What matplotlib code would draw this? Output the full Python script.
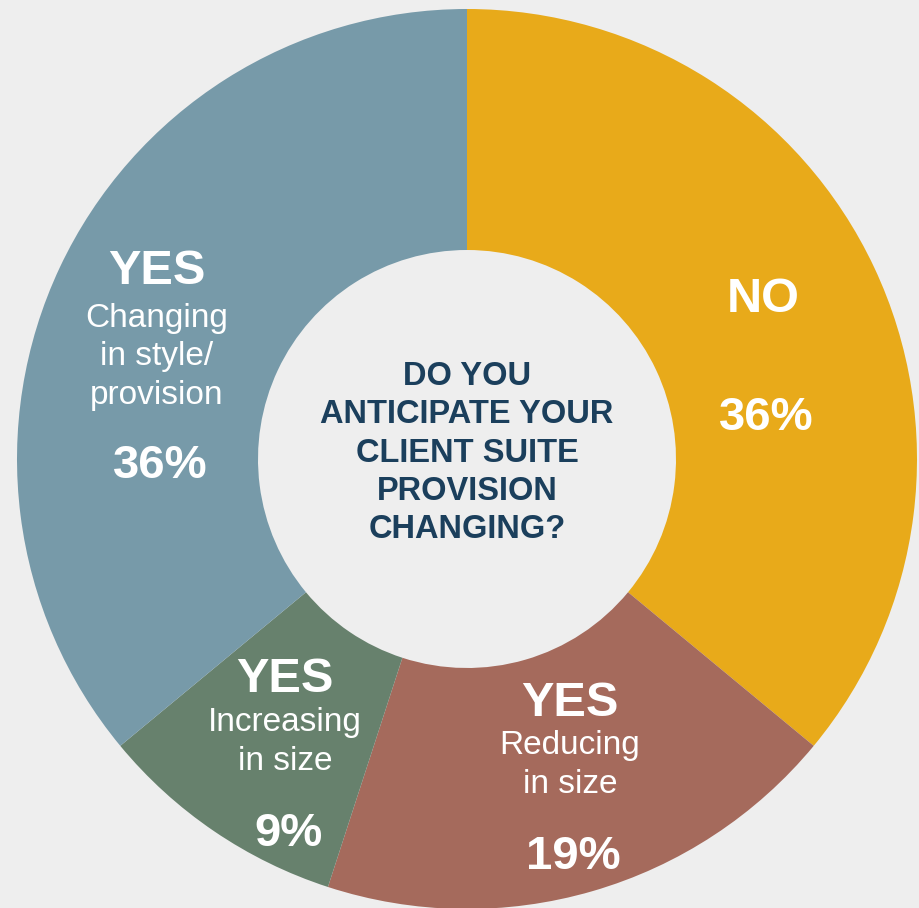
import matplotlib.pyplot as plt

plt.rcParams['font.family'] = ['Liberation Sans', 'DejaVu Sans']

# data
shares = [36, 19, 9, 36]
heads = ['NO', 'YES', 'YES', 'YES']
subs = ['', 'Reducing\nin size', 'Increasing\nin size', 'Changing\nin style/\nprovision']
colors = ['#e8aa1a', '#a56a5c', '#67816d', '#779aa9']
question = 'DO YOU\nANTICIPATE YOUR\nCLIENT SUITE\nPROVISION\nCHANGING?'

W, H = 919, 908
bg = '#eeeeee'

fig = plt.figure(figsize=(W / 100, H / 100), dpi=100, facecolor=bg)
ax = fig.add_axes([0, 0, 1, 1])
ax.set_facecolor(bg)

cx, cy, r = 467, H - 459, 450
ax.pie(shares, colors=colors, startangle=90, counterclock=False,
       center=(cx, cy), radius=r, frame=True,
       wedgeprops=dict(width=r - 209, linewidth=0))
ax.set_xlim(0, W)
ax.set_ylim(0, H)
ax.set_aspect('equal')
ax.axis('off')

ax.text(cx, H - 453, question, ha='center', va='center', fontsize=23.5,
        fontweight='bold', color='#1b3f5c', linespacing=1.3)

# label positions in pixels (x, y of head, sub, pct)
spots = [
    (763, 300, None, 418),
    (570, 703, 765, 857),
    (285, 680, 742, 834),
    (157, 272, 357, 466),
]
for (x, yh, ys, yp), head, sub, pct in zip(spots, heads, subs, shares):
    ax.text(x, H - yh, head, ha='center', va='center', fontsize=35,
            fontweight='bold', color='white')
    if ys is not None:
        ax.text(x, H - ys, sub, ha='center', va='center', fontsize=24,
                color='white', linespacing=1.32)
    ax.text(x + 3, H - yp, f'{pct}%', ha='center', va='center', fontsize=34,
            fontweight='bold', color='white')

fig.savefig('out.png', dpi=100, facecolor=bg)
